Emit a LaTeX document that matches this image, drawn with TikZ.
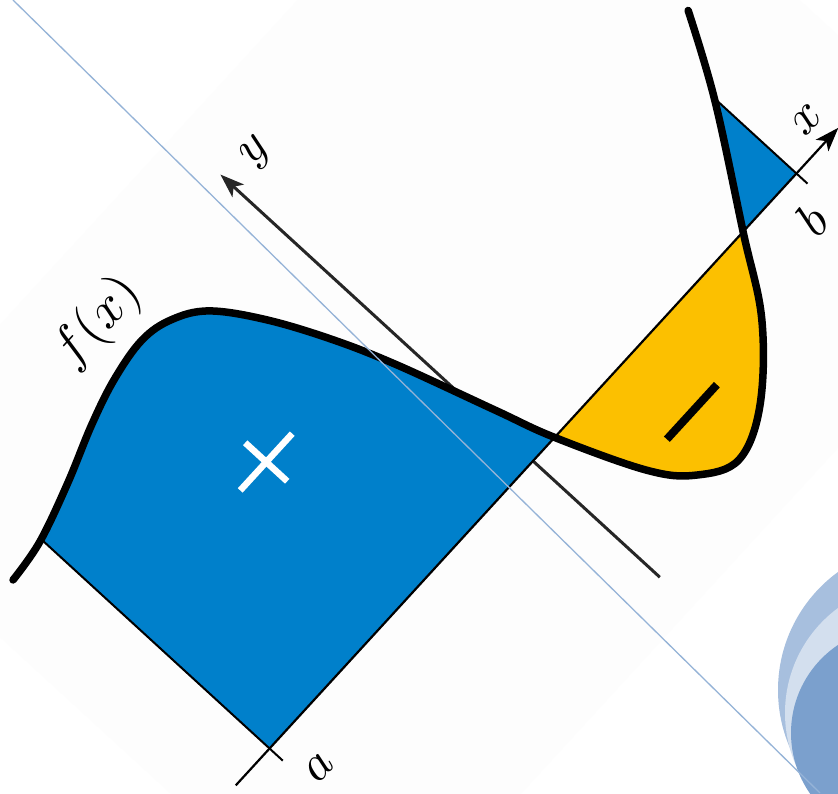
\documentclass[tikz,border=0pt]{standalone}
\usetikzlibrary{arrows.meta}
\definecolor{fillblue}{HTML}{0080CB}
\definecolor{fillgold}{HTML}{FCC000}
\definecolor{lineblue}{HTML}{95B3D7}
\definecolor{circA}{HTML}{A7BFDE}
\definecolor{circB}{HTML}{D3DFEE}
\definecolor{circC}{HTML}{7BA0CD}
\definecolor{faintbg}{HTML}{FDFDFD}
\tikzset{
  axisline/.style={line width=2.2pt, black},
  edgeline/.style={line width=2pt, black},
  fcurve/.style={line width=7.5pt, black, line cap=round, line join=round},
  lbl/.style={inner sep=0pt, rotate=47.5, scale=5},
  headtip/.style={-{Stealth[length=24pt,width=17pt,inset=6pt]}}
}
\begin{document}
\begin{tikzpicture}[x=1pt,y=1pt]
\useasboundingbox (0,0) rectangle (838,793);
\fill[white] (0,0) rectangle (838,793);
\begin{scope}
\clip (0,0) rectangle (838,793);
% faint rotated page background
\begin{scope}[shift={(533,332)}, rotate=47.5]
\fill[faintbg] (-490,-216) rectangle (520,485);
\end{scope}
% decorative circles
\fill[circA] (924,103) circle (146);
\fill[circB] (915.5,80) circle (130.5);
\fill[circC] (897,60) circle (106);
\end{scope}

\begin{scope}[shift={(533,332)}, rotate=47.5]
% y axis
\draw[line width=3pt, black!85, headtip] (0,-172) -- (0,424) coordinate (ytip);
% blue region left
\begin{scope}
\clip (-390,0) rectangle (32,420);
\fill[fillblue] plot[smooth,tension=0.6] coordinates {(-439,303) (-393,309) (-331,328) (-271,350) (-222,364) (-175,370) (-140,362) (-108,340) (-76,292) (-46,230) (-21,165) (12,62) (32,0) (70,-90) (100,-130) (140,-151) (194,-130) (259,-73) (311,0) (389,110) (437,190)} -- (437,-400) -- (-439,-400) -- cycle;
\end{scope}
% yellow region
\begin{scope}
\clip (32,-300) rectangle (311,0);
\fill[fillgold] plot[smooth,tension=0.6] coordinates {(-439,303) (-393,309) (-331,328) (-271,350) (-222,364) (-175,370) (-140,362) (-108,340) (-76,292) (-46,230) (-21,165) (12,62) (32,0) (70,-90) (100,-130) (140,-151) (194,-130) (259,-73) (311,0) (389,110) (437,190)} -- (437,500) -- (-439,500) -- cycle;
\end{scope}
% blue triangle right
\begin{scope}
\clip (311,0) rectangle (390,300);
\fill[fillblue] plot[smooth,tension=0.6] coordinates {(-439,303) (-393,309) (-331,328) (-271,350) (-222,364) (-175,370) (-140,362) (-108,340) (-76,292) (-46,230) (-21,165) (12,62) (32,0) (70,-90) (100,-130) (140,-151) (194,-130) (259,-73) (311,0) (389,110) (437,190)} -- (437,-400) -- (-439,-400) -- cycle;
\end{scope}
% x axis
\coordinate (xstart) at (-440,0);
\coordinate (xtip) at (452,0);
\draw[axisline, headtip] (xstart) -- (xtip);
% bounds a and b
\coordinate (abot) at (-390,-18);
\coordinate (atop) at (-390,309);
\coordinate (bbot) at (390,-15);
\coordinate (btop) at (390,111);
\draw[edgeline] (abot) -- (atop);
\draw[edgeline] (bbot) -- (btop);
% curve
\draw[fcurve] plot[smooth,tension=0.6] coordinates {(-439,303) (-393,309) (-331,328) (-271,350) (-222,364) (-175,370) (-140,362) (-108,340) (-76,292) (-46,230) (-21,165) (12,62) (32,0) (70,-90) (100,-130) (140,-151) (194,-130) (259,-73) (311,0) (389,110) (437,190)};
% signs
\draw[white, line width=6.5pt] (-219.5,196) -- (-142.5,196);
\draw[white, line width=6.5pt] (-181,167.5) -- (-181,224.5);
\draw[black, line width=8pt] (106.5,-84) -- (180.5,-84);
% labels
\node[lbl] (ylab) at (41,412) {$y$};
\node[lbl] (xlab) at (437,28) {$x$};
\node[lbl] (blab) at (366,-43) {$b$};
\node[lbl] (alab) at (-370,-50) {$a$};
\node[lbl, scale=1.06] (flab) at (-192,414) {$f(x)$};
\end{scope}

% thin diagonal line on top
\coordinate (dl1) at (13,793);
\coordinate (dl2) at (820,0);
\draw[lineblue, line width=1.3pt] (dl1) -- (dl2);
\end{tikzpicture}
\end{document}
